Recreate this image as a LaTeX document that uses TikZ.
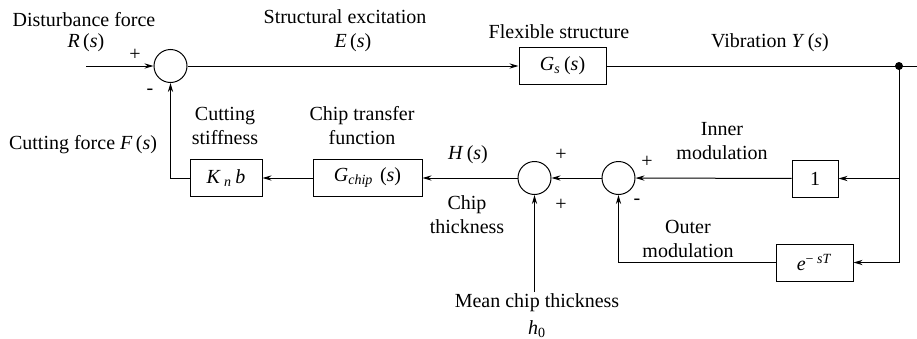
\documentclass[tikz,border=0pt]{standalone}
\usepackage{fontspec}
\setmainfont{Liberation Serif}
\usetikzlibrary{positioning,arrows.meta}
\newcommand{\iv}[1]{\textit{#1}}

\begin{document}
\begin{tikzpicture}[x=0.5pt,y=-0.5pt,line width=0.5pt,>={Stealth[length=4.5pt,width=2.6pt]},
        block/.style={draw,minimum height=18.5pt,inner sep=0pt},
        sumnode/.style={draw,circle,minimum size=16.5pt,inner sep=0pt},
        lbl/.style={inner sep=0pt,align=center}]
        \useasboundingbox (0,0) rectangle (917,338);
        % forward path
        \coordinate (in) at (86,66);
        \node[sumnode] (sum1) at (170.5,66) {};
        \node[block,minimum width=43.5pt] (Gs) at (562.5,66) {\iv{G}\textsubscript{\iv{s}}\,(\iv{s})};
        \coordinate (out) at (917,66);
        \coordinate (Y) at (899,66);
        \fill (Y) circle (2pt);
        % feedback path
        \node[block,minimum width=23pt] (one) at (815,178.5) {1};
        \node[block,minimum width=38.5pt] (delay) at (814.5,262.5) {\iv{e}\textsuperscript{− \iv{sT}}};
        \node[sumnode] (sum3) at (618.5,178) {};
        \node[sumnode] (sum2) at (534.5,178) {};
        \node[block,minimum width=54.5pt] (Gchip) at (367.5,178) {\iv{G}\textsubscript{\iv{chip}}\,\,(\iv{s})};
        \node[block,minimum width=36pt] (Knb) at (226,178) {\iv{K}\,\textsubscript{\iv{n}}\,\iv{b}};
        \node[lbl] (mean) at (537,303) {Mean chip thickness};
        \node[lbl] (h0) at (537,329) {\iv{h}\textsubscript{0}};
        \coordinate (meantop) at (534.5,292);
        % connectors
        \draw[->] (in) -- (sum1);
        \draw[->] (sum1) -- (Gs);
        \draw (Gs) -- (out);
        \draw[->] (Y) |- (one);
        \draw[->] (Y) |- (delay);
        \draw[->] (one) -- (sum3);
        \draw[->] (delay) -| (sum3);
        \draw[->] (sum3) -- (sum2);
        \draw[->] (sum2) -- (Gchip);
        \draw[->] (Gchip) -- (Knb);
        \draw[->] (Knb) -| (sum1);
        \draw[->] (meantop) -- (sum2);
        % labels
        \node[lbl] at (84,20) {Disturbance force};
        \node[lbl] at (86,43) {\iv{R}\,(\iv{s})};
        \node[lbl] at (135,55) {+};
        \node[lbl] at (150,92) {-};
        \node[lbl] at (345,17) {Structural excitation};
        \node[lbl] at (353,43) {\iv{E}\,(\iv{s})};
        \node[lbl] at (559,32) {Flexible structure};
        \node[lbl] at (770,43) {Vibration \iv{Y}\,(\iv{s})};
        \node[lbl] at (83,145) {Cutting force \iv{F}\,(\iv{s})};
        \node[lbl] at (225,126) {Cutting\\stiffness};
        \node[lbl] at (362,126) {Chip transfer\\function};
        \node[lbl] at (468,155) {\iv{H}\,(\iv{s})};
        \node[lbl] at (561,155) {+};
        \node[lbl] at (561,205) {+};
        \node[lbl] at (647,162) {+};
        \node[lbl] at (637,202) {-};
        \node[lbl] at (722,141) {Inner\\modulation};
        \node[lbl] at (467,215) {Chip\\thickness};
        \node[lbl] at (688,239) {Outer\\modulation};
    \end{tikzpicture}
\end{document}
